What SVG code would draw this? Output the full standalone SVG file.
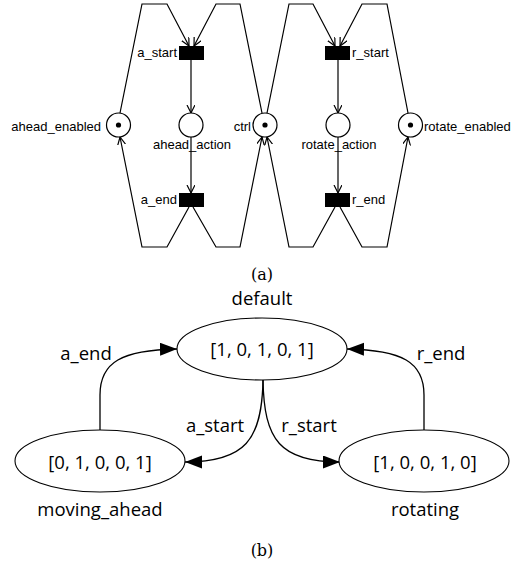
<svg xmlns="http://www.w3.org/2000/svg" width="518" height="565" viewBox="0 0 518 565">
<style>
.pn{fill:none;stroke:#000;stroke-width:1.2}
.pl{fill:#fff;stroke:#000;stroke-width:1.2}
.tr{fill:#000}
.pt{font-family:"Liberation Sans",Arial,sans-serif;font-size:13px;fill:#000}
.ed{fill:none;stroke:#000;stroke-width:1.3}
.st{fill:#fff;stroke:#000;stroke-width:1.1}
.sl{font-family:"Open Sans","Noto Sans",sans-serif;font-size:18.5px;fill:#000}
.cap{font-family:"DejaVu Serif","Liberation Serif",serif;font-size:16px;fill:#000}
</style>
<defs>
<marker id="open" markerUnits="userSpaceOnUse" markerWidth="10" markerHeight="10" refX="8" refY="4" orient="auto">
<path d="M0,0 L8,4 L0,8" fill="none" stroke="#000" stroke-width="1.2"/>
</marker>
<marker id="fill" markerUnits="userSpaceOnUse" markerWidth="18" markerHeight="14" refX="17" refY="6.5" orient="auto">
<path d="M0,0 L17,6.5 L0,13 Z" fill="#000"/>
</marker>
</defs>
<g id="petri-connectors">
<path class="pn" d="M120,113 L142,4 L167,4 L189,46" marker-end="url(#open)"/>
<path class="pn" d="M262,113 L240,4 L216,4 L194,46" marker-end="url(#open)"/>
<path class="pn" d="M267,113 L289,4 L313,4 L335,46" marker-end="url(#open)"/>
<path class="pn" d="M408,113 L387,4 L362,4 L340,46" marker-end="url(#open)"/>
<path class="pn" d="M191,60 L191,113" marker-end="url(#open)"/>
<path class="pn" d="M191,137 L191,193" marker-end="url(#open)"/>
<path class="pn" d="M338,60 L338,113" marker-end="url(#open)"/>
<path class="pn" d="M338,137 L338,193" marker-end="url(#open)"/>
<path class="pn" d="M189,207 L167,247 L142,247 L120,137" marker-end="url(#open)"/>
<path class="pn" d="M193,207 L216,247 L240,247 L262,137" marker-end="url(#open)"/>
<path class="pn" d="M335,207 L313,247 L289,247 L267,137" marker-end="url(#open)"/>
<path class="pn" d="M340,207 L362,247 L387,247 L408,137" marker-end="url(#open)"/>
</g>
<g id="ahead_enabled"><circle class="pl" cx="118.5" cy="125" r="12"/><circle cx="118.5" cy="125" r="2.6"/><text class="pt" x="101" y="131" text-anchor="end">ahead_enabled</text></g>
<g id="ahead_action"><circle class="pl" cx="191" cy="125" r="12"/><text class="pt" x="192" y="149" text-anchor="middle">ahead_action</text></g>
<g id="ctrl"><circle class="pl" cx="265" cy="125" r="12"/><circle cx="265" cy="125" r="2.6"/><text class="pt" x="251" y="131" text-anchor="end">ctrl</text></g>
<g id="rotate_action"><circle class="pl" cx="338" cy="125" r="12"/><text class="pt" x="339" y="149" text-anchor="middle">rotate_action</text></g>
<g id="rotate_enabled"><circle class="pl" cx="410.5" cy="125" r="12"/><circle cx="410.5" cy="125" r="2.6"/><text class="pt" x="424" y="131">rotate_enabled</text></g>
<g id="a_start"><rect class="tr" x="179" y="46" width="25" height="14"/><text class="pt" x="177" y="57" text-anchor="end">a_start</text></g>
<g id="r_start"><rect class="tr" x="325" y="46" width="25" height="14"/><text class="pt" x="352" y="57">r_start</text></g>
<g id="a_end"><rect class="tr" x="179" y="193" width="25" height="14"/><text class="pt" x="177" y="204" text-anchor="end">a_end</text></g>
<g id="r_end"><rect class="tr" x="325" y="193" width="25" height="14"/><text class="pt" x="352" y="204">r_end</text></g>
<text class="cap" x="262" y="280" text-anchor="middle">(a)</text>
<g id="state-connectors">
<path class="ed" d="M100,430 L100,395 C100,362 122,350 177,349" marker-end="url(#fill)"/>
<path class="ed" d="M424,430 L424,395 C424,362 402,350 347,349" marker-end="url(#fill)"/>
<path class="ed" d="M263,380 C262,440 245,462 185,462" marker-end="url(#fill)"/>
<path class="ed" d="M263,380 C264,440 280,462 340,462" marker-end="url(#fill)"/>
<text class="sl" x="86" y="360" text-anchor="middle">a_end</text>
<text class="sl" x="441" y="360" text-anchor="middle">r_end</text>
<text class="sl" x="215" y="432" text-anchor="middle">a_start</text>
<text class="sl" x="309" y="432" text-anchor="middle">r_start</text>
</g>
<g id="default"><ellipse class="st" cx="262" cy="349" rx="85" ry="31"/><text class="sl" x="262" y="356" text-anchor="middle">[1, 0, 1, 0, 1]</text><text class="sl" x="262" y="305" text-anchor="middle">default</text></g>
<g id="moving_ahead"><ellipse class="st" cx="100" cy="461" rx="85" ry="31"/><text class="sl" x="100" y="469" text-anchor="middle">[0, 1, 0, 0, 1]</text><text class="sl" x="100" y="516" text-anchor="middle">moving_ahead</text></g>
<g id="rotating"><ellipse class="st" cx="424" cy="461" rx="85" ry="31"/><text class="sl" x="425" y="469" text-anchor="middle">[1, 0, 0, 1, 0]</text><text class="sl" x="425" y="516" text-anchor="middle">rotating</text></g>
<text class="cap" x="262" y="556" text-anchor="middle">(b)</text>
</svg>
